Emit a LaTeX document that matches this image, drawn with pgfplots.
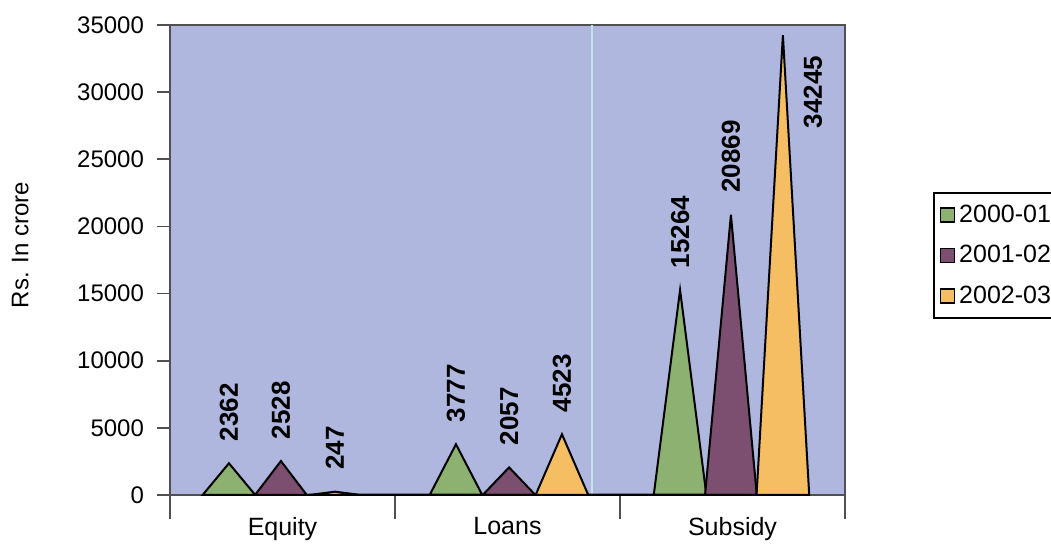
\documentclass[border=0pt]{standalone}
\usepackage{fontspec}
\setmainfont{Liberation Sans}
\usepackage{pgfplots}
\pgfplotsset{compat=1.18}

\definecolor{plotbg}{RGB}{176,183,222}
\definecolor{c0001}{RGB}{141,177,112}
\definecolor{c0102}{RGB}{124,78,112}
\definecolor{c0203}{RGB}{246,190,98}
\definecolor{axgray}{RGB}{80,80,80}
\definecolor{scanline}{RGB}{196,226,236}

\begin{document}
\begin{tikzpicture}
% page = 1051 x 544 px at 0.5pt per px
\path[use as bounding box] (-85pt,-24.5pt) rectangle (440.5pt,247.5pt);
\begin{axis}[
    scale only axis,
    width=337.5pt, height=235pt,
    xmin=-0.5, xmax=2.5,
    ymin=0, ymax=35000,
    axis background/.style={fill=plotbg},
    axis line style={axgray, line width=0.8pt},
    tick style={axgray, line width=0.8pt},
    tick pos=left,
    tick align=outside,
    major tick length=12pt,
    xtick={-0.5,0.5,1.5,2.5},
    xticklabels={Equity, Loans, Subsidy},
    x tick label as interval,
    xticklabel style={font=\fontsize{12.5}{14}\selectfont, yshift=4.5pt},
    ytick=\empty,
    extra y ticks={0,5000,...,35000},
    extra y tick style={major tick length=6.5pt},
    scaled y ticks=false,
    yticklabel style={font=\fontsize{12}{14}\selectfont, xshift=-3pt},
    /pgf/number format/.cd, 1000 sep={}, assume math mode=true,
    /pgfplots/.cd,
    ylabel={Rs. In crore},
    ylabel style={at={(axis description cs:-0.222,0.532)}, anchor=center, font=\fontsize{12}{14}\selectfont},
    legend style={at={(1.1304,0.6447)}, anchor=north west, draw=black, line width=0.8pt,
        font=\fontsize{12.5}{14}\selectfont, inner xsep=3pt, inner ysep=4pt, row sep=6pt,
        /tikz/every even column/.append style={column sep=3pt}},
    legend cell align=left,
    clip=false,
]
% faint vertical line visible in the scan
\draw[scanline, line width=1pt] (axis cs:1.376,0) -- (axis cs:1.376,35000);

\addplot[fill=c0001, draw=black, line width=1pt,
    legend image code/.code={\draw[fill=c0001, draw=black, line width=0.7pt] (0pt,-3.5pt) rectangle (7pt,3.5pt);}]
    coordinates {(-0.355,0) (-0.238,2362) (-0.121,0)
                 (0.654,0) (0.771,3777) (0.888,0)
                 (1.650,0) (1.767,15264) (1.884,0)} -- cycle;
\addlegendentry{2000-01}
\addplot[fill=c0102, draw=black, line width=1pt,
    legend image code/.code={\draw[fill=c0102, draw=black, line width=0.7pt] (0pt,-3.5pt) rectangle (7pt,3.5pt);}]
    coordinates {(-0.122,0) (-0.007,2528) (0.108,0)
                 (0.890,0) (1.007,2057) (1.124,0)
                 (1.878,0) (1.993,20869) (2.108,0)} -- cycle;
\addlegendentry{2001-02}
\addplot[fill=c0203, draw=black, line width=1pt,
    legend image code/.code={\draw[fill=c0203, draw=black, line width=0.7pt] (0pt,-3.5pt) rectangle (7pt,3.5pt);}]
    coordinates {(0.118,0) (0.233,247) (0.348,0)
                 (1.125,0) (1.242,4523) (1.359,0)
                 (2.107,0) (2.224,34245) (2.341,0)} -- cycle;
\addlegendentry{2002-03}

% value labels
\addplot[draw=none, forget plot, nodes near coords, point meta=explicit symbolic,
    nodes near coords style={rotate=90, anchor=west, outer xsep=11pt, inner sep=0pt,
        font=\fontsize{13}{15}\selectfont\bfseries, text=black}]
    coordinates {(-0.238,2362)[2362] (-0.007,2528)[2528] (0.233,247)[247]
                 (0.771,3777)[3777] (1.007,2057)[2057] (1.242,4523)[4523]
                 (1.767,15264)[15264] (1.993,20869)[20869]};
\node[rotate=90, inner sep=0pt, font=\fontsize{13}{15}\selectfont\bfseries]
    at (axis cs:2.358,30000) {34245};
\end{axis}
\end{tikzpicture}
\end{document}
